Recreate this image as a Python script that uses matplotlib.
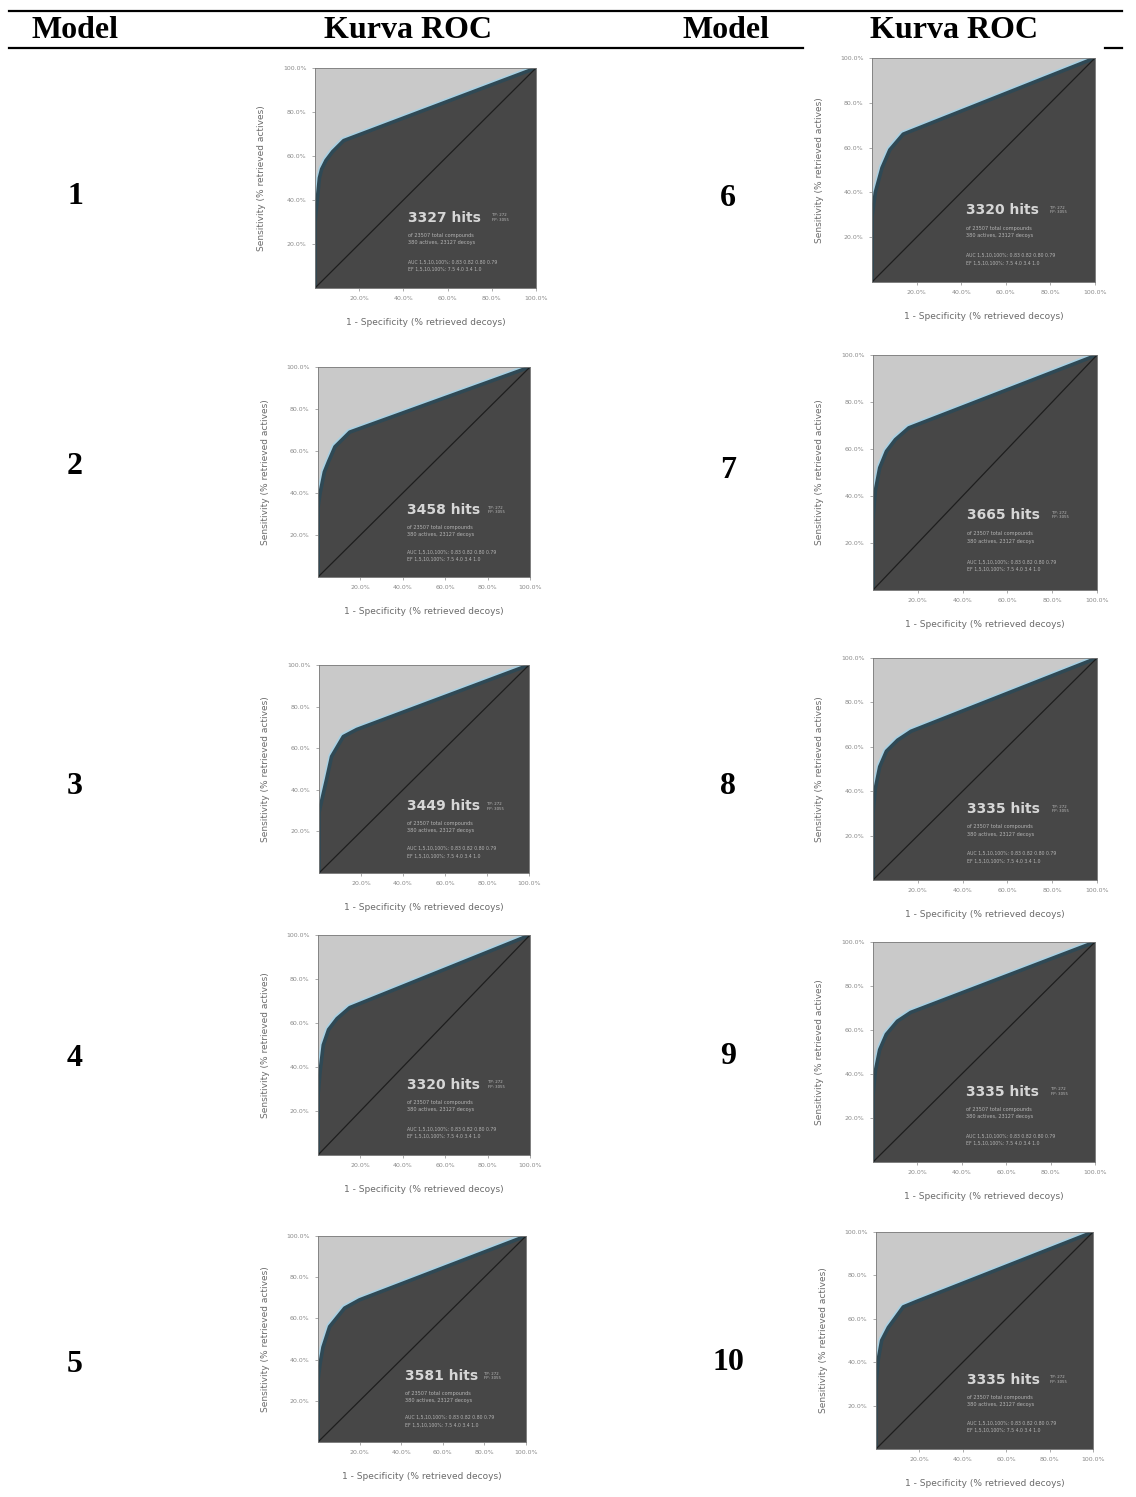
import matplotlib
matplotlib.use('Agg')
from matplotlib import pyplot as plt
import matplotlib.patheffects as pe

W, H = 1136, 1497

models = [1, 2, 3, 4, 5, 6, 7, 8, 9, 10]
hits = [3327, 3458, 3449, 3320, 3581, 3320, 3665, 3335, 3335, 3335]

# ROC points (% retrieved decoys, % retrieved actives)
roc_fpr = [
    [0, 0, 1, 2, 3, 5, 8, 13, 100],
    [0, 0, 1, 3, 5, 8, 15, 100],
    [0, 0, 2, 3.6, 6, 11.6, 18, 100],
    [0, 0, 1, 2.5, 5, 9, 15, 100],
    [0, 0, 1, 2.4, 5.6, 12.8, 20, 100],
    [0, 0, 1.5, 4.5, 8, 14, 100],
    [0, 0, 1, 3, 6, 10, 16, 100],
    [0, 0, 1, 3, 6, 11, 17, 100],
    [0, 0, 1, 3, 6, 11, 17, 100],
    [0, 0, 1, 2.6, 5.7, 12.6, 18.7, 100],
]
roc_tpr = [
    [0, 30, 40, 50, 54, 58, 62, 67, 100],
    [0, 33, 40, 50, 55, 62, 69, 100],
    [0, 29, 38, 45, 56, 65.6, 69, 100],
    [0, 27, 38, 50, 57, 62, 67, 100],
    [0, 30, 38, 46, 56, 65, 69, 100],
    [0, 29, 40, 51, 59, 66, 100],
    [0, 30, 42, 52, 59, 64, 69, 100],
    [0, 30, 41, 51, 58, 63, 67, 100],
    [0, 30, 41, 51, 58, 64, 68, 100],
    [0, 30, 41, 50, 56, 65.5, 68, 100],
]
tick_vals = [20, 40, 60, 80, 100]
tick_labels = ['20.0%', '40.0%', '60.0%', '80.0%', '100.0%']

# pixel boxes of each small plot (x0, y0, x1, y1)
axes_px = [
    (315, 68, 536, 288), (318, 367, 530, 577), (319, 665, 529, 873),
    (318, 935, 530, 1155), (318, 1236, 526, 1442),
    (872, 58, 1095, 282), (873, 355, 1097, 590), (873, 658, 1097, 880),
    (873, 942, 1095, 1162), (876, 1232, 1093, 1449),
]
row_y = [196, 467, 787, 1059, 1365, 198, 470, 787, 1057, 1362]

fig = plt.figure(figsize=(W / 100, H / 100), dpi=100)
fig.patch.set_facecolor('white')

serif = ['Liberation Serif', 'DejaVu Serif']

# table rules and header
fig.add_artist(plt.Line2D([9 / W, 1122 / W], [1 - 11 / H, 1 - 11 / H], color='black', lw=1.6))
fig.add_artist(plt.Line2D([9 / W, 803 / W], [1 - 48 / H, 1 - 48 / H], color='black', lw=1.6))
fig.add_artist(plt.Line2D([1105 / W, 1122 / W], [1 - 48 / H, 1 - 48 / H], color='black', lw=1.6))
for cx, txt in [(75, 'Model'), (408, 'Kurva ROC'), (726, 'Model'), (954, 'Kurva ROC')]:
    fig.text(cx / W, 1 - 31 / H, txt, ha='center', va='center', fontsize=23,
             fontweight='bold', family=serif)

for i, m in enumerate(models):
    cx = 75 if i < 5 else 728
    fig.text(cx / W, 1 - row_y[i] / H, str(m), ha='center', va='center',
             fontsize=23, fontweight='bold', family=serif)

    x0, y0, x1, y1 = axes_px[i]
    ax = fig.add_axes([x0 / W, 1 - y1 / H, (x1 - x0) / W, (y1 - y0) / H])
    ax.set_facecolor('#c9c9c9')
    ax.fill_between(roc_fpr[i], roc_tpr[i], 0, color='#474747', lw=0)
    ax.plot(roc_fpr[i], roc_tpr[i], color='#2f4955', lw=2.6, solid_joinstyle='round',
            path_effects=[pe.SimpleLineShadow(offset=(-0.9, 0.9), shadow_color='#a9d0e2',
                                              alpha=1, rho=1), pe.Normal()])
    ax.plot([0, 100], [0, 100], color='#1e1e1e', lw=0.9)
    ax.set_xlim(0, 100)
    ax.set_ylim(0, 100)
    ax.set_xticks(tick_vals)
    ax.set_xticklabels(tick_labels)
    ax.set_yticks(tick_vals)
    ax.set_yticklabels(tick_labels)
    ax.tick_params(labelsize=4.5, colors='#8a8a8a', length=2, width=0.5, pad=4)
    for s in ax.spines.values():
        s.set_color('#7a7a7a')
        s.set_linewidth(0.6)
    ax.set_xlabel('1 - Specificity (% retrieved decoys)', fontsize=6.5, color='#6a6a6a', labelpad=12)
    ax.set_ylabel('Sensitivity (% retrieved actives)', fontsize=6.5, color='#6a6a6a', labelpad=12)

    ax.text(0.42, 0.32, f'{hits[i]} hits', transform=ax.transAxes, fontsize=10,
            fontweight='bold', color='#d6d6d6', va='center', ha='left')
    ax.text(0.80, 0.32, 'TP: 272\nFP: 3055', transform=ax.transAxes, fontsize=2.8,
            color='#bdbdbd', va='center', ha='left', linespacing=1.1)
    ax.text(0.42, 0.25, 'of 23507 total compounds\n380 actives, 23127 decoys',
            transform=ax.transAxes, fontsize=3.6, color='#b5b5b5', va='top', ha='left',
            linespacing=1.6)
    ax.text(0.42, 0.13, 'AUC 1,5,10,100%: 0.83 0.82 0.80 0.79\nEF 1,5,10,100%: 7.5 4.0 3.4 1.0',
            transform=ax.transAxes, fontsize=3.3, color='#b5b5b5', va='top', ha='left',
            linespacing=1.6)

plt.savefig('out.png', dpi=100)
